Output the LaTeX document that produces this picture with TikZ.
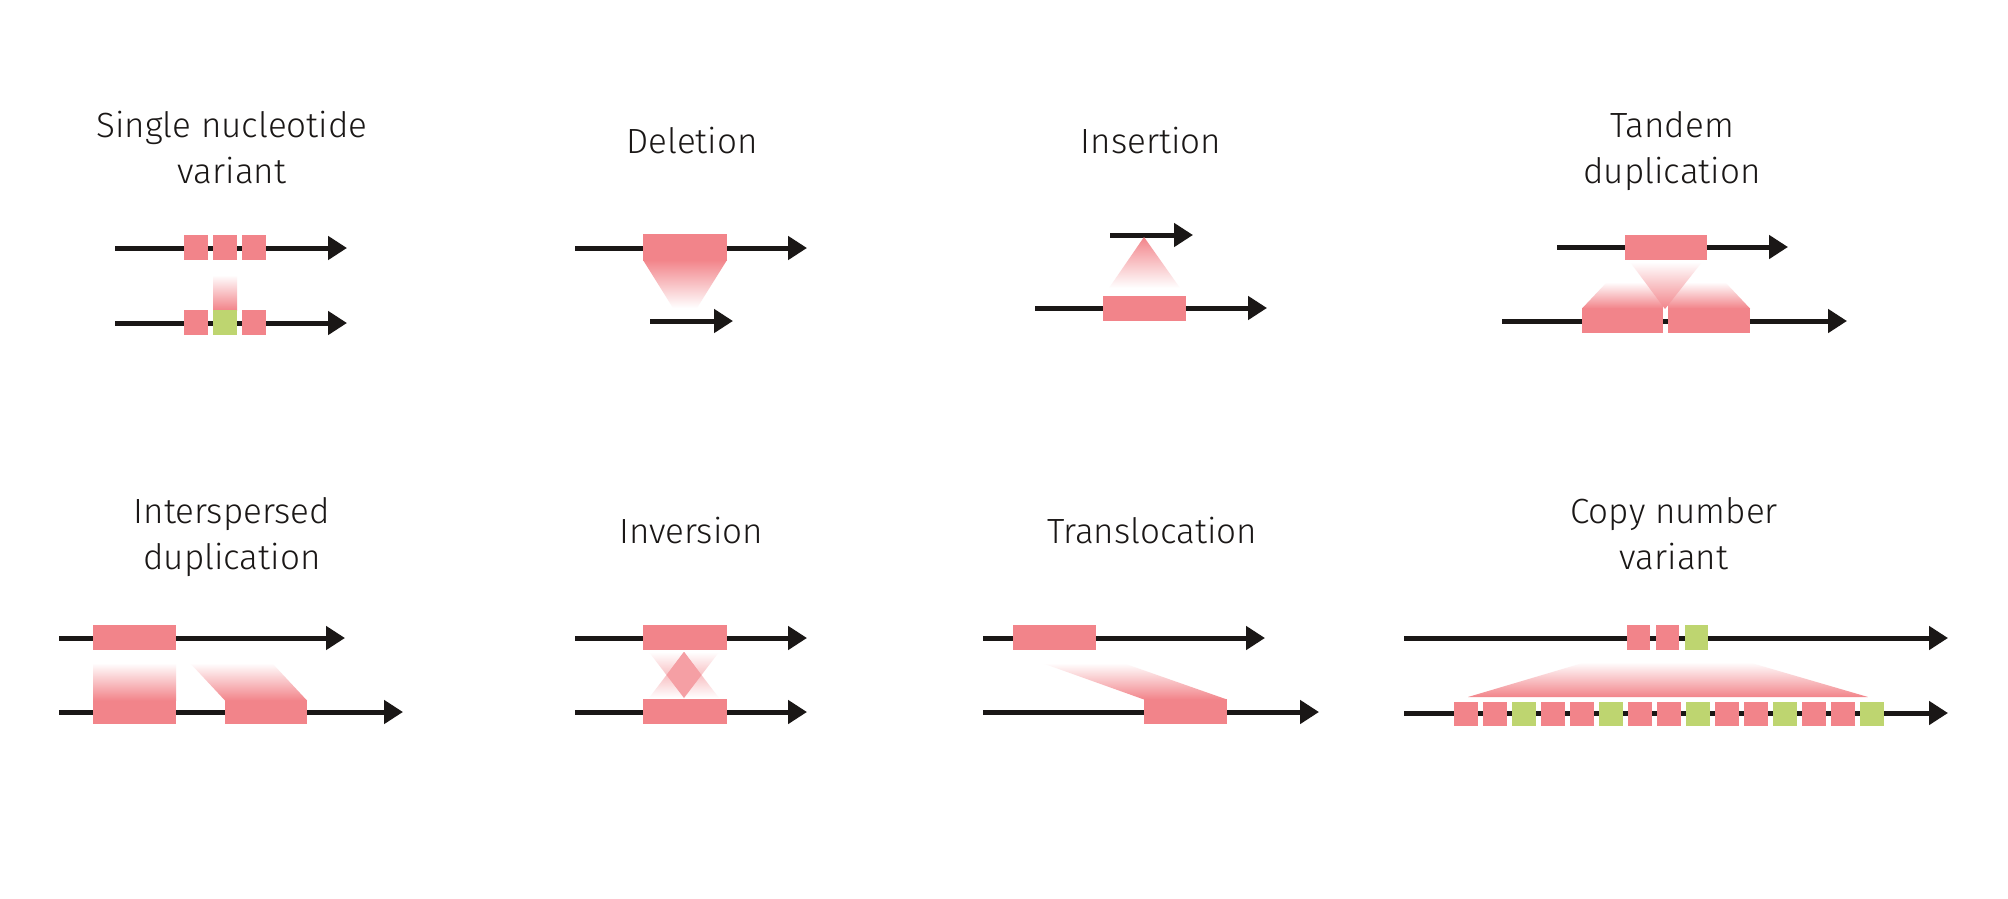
\documentclass[tikz,border=0pt]{standalone}
\usepackage{fontspec}
\setmainfont{Fira Sans}[UprightFont={* Light}]
\usetikzlibrary{arrows.meta}
\definecolor{pk}{RGB}{242,132,138}
\definecolor{gr}{RGB}{190,213,112}
\definecolor{ink}{RGB}{26,23,22}
\tikzset{
  strand/.style={draw=ink, line width=5pt, -{Triangle[length=19pt,width=23pt]}},
  blk/.style={fill=pk, draw=none},
  gblk/.style={fill=gr, draw=none},
  fadeup/.style={draw=none, top color=white, bottom color=pk},
  fadedown/.style={draw=none, top color=pk, bottom color=white},
  title/.style={font=\fontsize{35}{46}\selectfont, text=ink, align=center, anchor=base, inner sep=0pt}
}
\begin{document}
\begin{tikzpicture}[x=1pt, y=-1pt]
\fill[white] (0,0) rectangle (2008,898);
\useasboundingbox (0,0) rectangle (2008,898);

% ---------- titles (anchor = baseline of last line) ----------
\node[title] (tSNV) at (232,183) {Single nucleotide\\variant};
\node[title] (tDel) at (692,153) {Deletion};
\node[title] (tIns) at (1151,153) {Insertion};
\node[title] (tTan) at (1672,183) {Tandem\\duplication};
\node[title] (tInt) at (232,569) {Interspersed\\duplication};
\node[title] (tInv) at (691,543) {Inversion};
\node[title] (tTra) at (1152,543) {Translocation};
\node[title] (tCNV) at (1674,569) {Copy number\\variant};

% ---------- Single nucleotide variant ----------
\coordinate (s1a) at (115,248); \coordinate (s1b) at (347,248);
\coordinate (s2a) at (115,323); \coordinate (s2b) at (347,323);
\draw[strand] (s1a) -- (s1b);
\draw[strand] (s2a) -- (s2b);
\fill[blk] (184,235) rectangle (208,260);
\fill[blk] (213,235) rectangle (237,260);
\fill[blk] (242,235) rectangle (266,260);
\shade[fadeup] (213,275) rectangle (237,310);
\fill[blk] (184,310) rectangle (208,335);
\fill[gblk] (213,310) rectangle (237,335);
\fill[blk] (242,310) rectangle (266,335);

% ---------- Deletion ----------
\coordinate (d1a) at (575,248); \coordinate (d1b) at (807,248);
\coordinate (d2a) at (650,321); \coordinate (d2b) at (733,321);
\draw[strand] (d1a) -- (d1b);
\draw[strand] (d2a) -- (d2b);
\fill[blk] (643,234) rectangle (727,260.5);
\shade[fadedown] (643,260) -- (727,260) -- (697,308) -- (673,308) -- cycle;

% ---------- Insertion ----------
\coordinate (i1a) at (1110,235); \coordinate (i1b) at (1193,235);
\coordinate (i2a) at (1035,308); \coordinate (i2b) at (1267,308);
\draw[strand] (i1a) -- (i1b);
\draw[strand] (i2a) -- (i2b);
\shade[fadedown] (1144,237) -- (1180,288) -- (1109,288) -- cycle;
\fill[blk] (1103,296) rectangle (1186,321);

% ---------- Tandem duplication ----------
\coordinate (t1a) at (1557,247); \coordinate (t1b) at (1788,247);
\coordinate (t2a) at (1502,321); \coordinate (t2b) at (1847,321);
\draw[strand] (t1a) -- (t1b);
\draw[strand] (t2a) -- (t2b);
\fill[blk] (1625,235) rectangle (1707,260);
\fill[blk] (1582,308) rectangle (1663,333);
\shade[fadeup] (1582,308.5) -- (1607,282) -- (1663,282) -- (1663,308.5) -- cycle;
\fill[blk] (1668,308) rectangle (1750,333);
\shade[fadeup] (1668,308.5) -- (1668,282) -- (1725,282) -- (1750,308.5) -- cycle;
\shade[fadeup] (1630,262) -- (1702,262) -- (1665,309) -- cycle;

% ---------- Interspersed duplication ----------
\coordinate (p1a) at (59,638); \coordinate (p1b) at (345,638);
\coordinate (p2a) at (59,712); \coordinate (p2b) at (403,712);
\draw[strand] (p1a) -- (p1b);
\draw[strand] (p2a) -- (p2b);
\fill[blk] (93,625) rectangle (176,650);
\fill[blk] (93,700) rectangle (176,724);
\shade[fadeup] (93,663) rectangle (176,700.5);
\fill[blk] (225,700) rectangle (307,724);
\shade[fadeup] (190,663) -- (272,663) -- (307,700.5) -- (225,700.5) -- cycle;

% ---------- Inversion ----------
\coordinate (v1a) at (575,638); \coordinate (v1b) at (807,638);
\coordinate (v2a) at (575,712); \coordinate (v2b) at (807,712);
\draw[strand] (v1a) -- (v1b);
\draw[strand] (v2a) -- (v2b);
\fill[blk] (643,625) rectangle (727,650);
\fill[blk] (643,699) rectangle (727,724);
\shade[fadeup] (649,652) -- (719,652) -- (684,698) -- cycle;
\shade[fadedown] (649,698) -- (719,698) -- (684,652) -- cycle;
\fill[pk!78!white] (684,652) -- (701.5,675) -- (684,698) -- (666.5,675) -- cycle;

% ---------- Translocation ----------
\coordinate (r1a) at (983,638); \coordinate (r1b) at (1265,638);
\coordinate (r2a) at (983,712); \coordinate (r2b) at (1319,712);
\draw[strand] (r1a) -- (r1b);
\draw[strand] (r2a) -- (r2b);
\fill[blk] (1013,625) rectangle (1096,650);
\fill[blk] (1144,699) rectangle (1227,724);
\shade[fadeup] (1042,663) -- (1123,663) -- (1227,699.5) -- (1144,699.5) -- cycle;

% ---------- Copy number variant ----------
\coordinate (c1a) at (1404,638); \coordinate (c1b) at (1948,638);
\coordinate (c2a) at (1404,713); \coordinate (c2b) at (1948,713);
\draw[strand] (c1a) -- (c1b);
\draw[strand] (c2a) -- (c2b);
\fill[blk] (1627,625) rectangle (1650,650);
\fill[blk] (1656,625) rectangle (1679,650);
\fill[gblk] (1685,625) rectangle (1708,650);
\shade[fadeup] (1586,662) -- (1748,662) -- (1868,697) -- (1468,697) -- cycle;
\foreach \i/\c in {0/pk,1/pk,2/gr,3/pk,4/pk,5/gr,6/pk,7/pk,8/gr,9/pk,10/pk,11/gr,12/pk,13/pk,14/gr}{
  \fill[\c] ({1454+\i*29},702) rectangle ({1478+\i*29},726);
}
\end{tikzpicture}
\end{document}
